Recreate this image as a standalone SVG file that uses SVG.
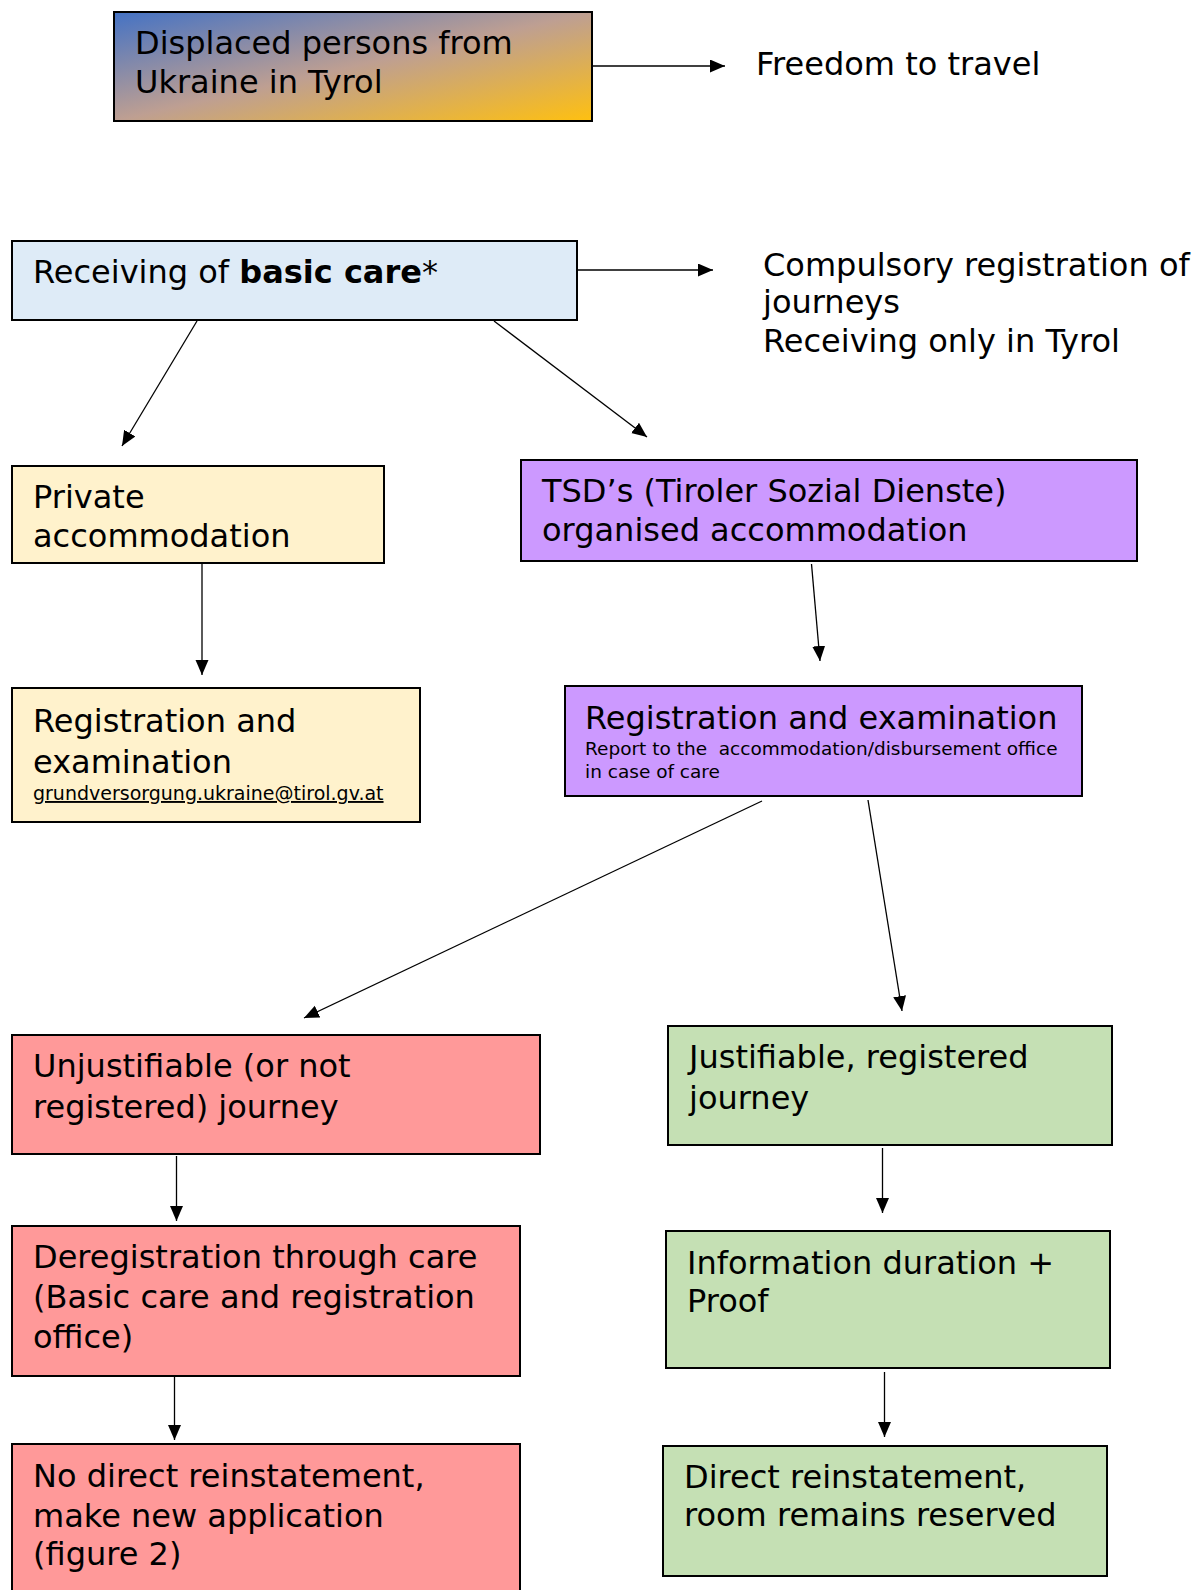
<svg xmlns="http://www.w3.org/2000/svg" width="1200" height="1590" viewBox="0 0 1200 1590">
<style>
  .box{stroke:#000;stroke-width:2}
  .t{font-family:"DejaVu Sans","Noto Sans",sans-serif;font-size:32px;fill:#000}
  .s{font-family:"DejaVu Sans","Noto Sans",sans-serif;font-size:18.5px;fill:#000;white-space:pre}
  .e{font-family:"DejaVu Sans","Noto Sans",sans-serif;font-size:19px;fill:#000;text-decoration:underline}
  .c{stroke:#000;stroke-width:1.3;fill:none;marker-end:url(#ah)}
  .blue{fill:#DEEBF7}.yel{fill:#FFF2CC}.pur{fill:#CC99FF}.red{fill:#FF9999}.grn{fill:#C5E0B4}
</style>
<defs>
  <linearGradient id="g1" x1="0" y1="0" x2="1" y2="1">
    <stop offset="0" stop-color="#4472C4"/>
    <stop offset="0.5" stop-color="#BE9F92"/>
    <stop offset="1" stop-color="#FFC010"/>
  </linearGradient>
  <marker id="ah" markerUnits="userSpaceOnUse" markerWidth="16" markerHeight="14" refX="15" refY="6.5" orient="auto">
    <path d="M0,0 L15,6.5 L0,13 z" fill="#000"/>
  </marker>
</defs>
<rect width="1200" height="1590" fill="#fff"/>
<g id="n-displaced">
  <rect class="box" x="114" y="12" width="478" height="109" fill="url(#g1)"/>
  <text class="t" x="135" y="54">Displaced persons from</text>
  <text class="t" x="135" y="93">Ukraine in Tyrol</text>
</g>
<g id="n-freedom">
  <text class="t" x="756" y="75">Freedom to travel</text>
</g>
<g id="n-basic">
  <rect class="box blue" x="12" y="241" width="565" height="79"/>
  <text class="t" x="33" y="283">Receiving of <tspan font-weight="bold">basic care</tspan>*</text>
</g>
<g id="n-compulsory">
  <text class="t" x="763" y="276">Compulsory registration of</text>
  <text class="t" x="763" y="313">journeys</text>
  <text class="t" x="763" y="352">Receiving only in Tyrol</text>
</g>
<g id="n-private">
  <rect class="box yel" x="12" y="466" width="372" height="97"/>
  <text class="t" x="33" y="508">Private</text>
  <text class="t" x="33" y="547">accommodation</text>
</g>
<g id="n-tsd">
  <rect class="box pur" x="521" y="460" width="616" height="101"/>
  <text class="t" x="542" y="502">TSD’s (Tiroler Sozial Dienste)</text>
  <text class="t" x="542" y="541">organised accommodation</text>
</g>
<g id="n-reg-left">
  <rect class="box yel" x="12" y="688" width="408" height="134"/>
  <text class="t" x="33" y="732">Registration and</text>
  <text class="t" x="33" y="773">examination</text>
  <text class="e" x="33" y="800">grundversorgung.ukraine@tirol.gv.at</text>
</g>
<g id="n-reg-right">
  <rect class="box pur" x="565" y="686" width="517" height="110"/>
  <text class="t" x="585" y="729">Registration and examination</text>
  <text class="s" x="585" y="755">Report to the  accommodation/disbursement office</text>
  <text class="s" x="585" y="778">in case of care</text>
</g>
<g id="n-unjust">
  <rect class="box red" x="12" y="1035" width="528" height="119"/>
  <text class="t" x="33" y="1077">Unjustifiable (or not</text>
  <text class="t" x="33" y="1118">registered) journey</text>
</g>
<g id="n-just">
  <rect class="box grn" x="668" y="1026" width="444" height="119"/>
  <text class="t" x="689" y="1068">Justifiable, registered</text>
  <text class="t" x="689" y="1109">journey</text>
</g>
<g id="n-dereg">
  <rect class="box red" x="12" y="1226" width="508" height="150"/>
  <text class="t" x="33" y="1268">Deregistration through care</text>
  <text class="t" x="33" y="1308">(Basic care and registration</text>
  <text class="t" x="33" y="1348">office)</text>
</g>
<g id="n-info">
  <rect class="box grn" x="666" y="1231" width="444" height="137"/>
  <text class="t" x="687" y="1274">Information duration +</text>
  <text class="t" x="687" y="1312">Proof</text>
</g>
<g id="n-nodirect">
  <rect class="box red" x="12" y="1444" width="508" height="160"/>
  <text class="t" x="33" y="1487">No direct reinstatement,</text>
  <text class="t" x="33" y="1527">make new application</text>
  <text class="t" x="33" y="1565">(figure 2)</text>
</g>
<g id="n-direct">
  <rect class="box grn" x="663" y="1446" width="444" height="130"/>
  <text class="t" x="684" y="1488">Direct reinstatement,</text>
  <text class="t" x="684" y="1526">room remains reserved</text>
</g>
<g id="connectors">
  <line class="c" x1="593" y1="66" x2="725" y2="66"/>
  <line class="c" x1="578" y1="270" x2="713" y2="270"/>
  <line class="c" x1="197" y1="321" x2="122" y2="446"/>
  <line class="c" x1="494" y1="321" x2="647" y2="437"/>
  <line class="c" x1="202" y1="563" x2="202" y2="675"/>
  <line class="c" x1="811.5" y1="564" x2="820" y2="661"/>
  <line class="c" x1="762" y1="801" x2="304" y2="1018"/>
  <line class="c" x1="868" y1="800" x2="902" y2="1011"/>
  <line class="c" x1="176.5" y1="1156" x2="176.5" y2="1221"/>
  <line class="c" x1="882.5" y1="1148" x2="882.5" y2="1213"/>
  <line class="c" x1="174.5" y1="1377" x2="174.5" y2="1440"/>
  <line class="c" x1="884.5" y1="1372" x2="884.5" y2="1437"/>
</g>
</svg>
